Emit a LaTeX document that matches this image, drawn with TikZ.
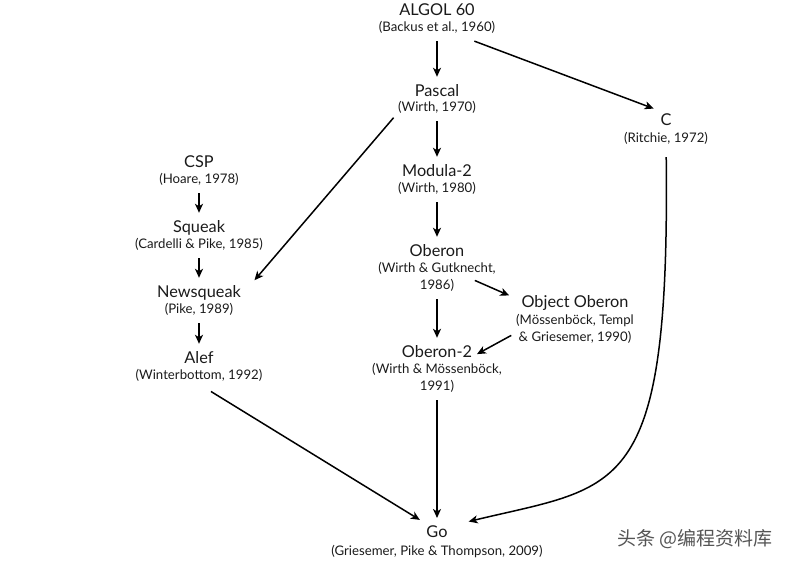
\documentclass[tikz,border=0pt]{standalone}
\usepackage{fontspec}
\setmainfont{Lato}
\newfontfamily\cjkfont{Noto Sans CJK SC}
\usetikzlibrary{arrows.meta}
\definecolor{ltext}{HTML}{1A1A1A}
\definecolor{lmark}{HTML}{555555}
\tikzset{
  lang/.style={anchor=base, font=\fontsize{16.3}{19}\selectfont, text=ltext, inner sep=3pt},
  langref/.style={anchor=base, align=center, font=\fontsize{13.2}{16.8}\selectfont,
                  text=ltext, inner sep=3pt},
  dep/.style={-{Stealth[length=9pt, width=8pt, inset=2.5pt]}, line width=1.5pt,
              shorten >=4pt, shorten <=5pt},
}

\begin{document}
\begin{tikzpicture}[x=1pt, y=-1pt]

  \useasboundingbox (0,0) rectangle (794,562);

  % languages
  \node[lang] (algol) at (437,15) {ALGOL 60};
  \node[langref] (algol-y) at (437,31) {(Backus et al., 1960)};
  \node[lang] (pascal) at (437,96) {Pascal};
  \node[langref] (pascal-y) at (437,111) {(Wirth, 1970)};
  \node[lang] (c) at (666,125) {C};
  \node[langref] (c-y) at (666,142) {(Ritchie, 1972)};
  \node[lang] (csp) at (199,167) {CSP};
  \node[langref] (csp-y) at (199,183) {(Hoare, 1978)};
  \node[lang] (modula) at (437,176) {Modula-2};
  \node[langref] (modula-y) at (437,192) {(Wirth, 1980)};
  \node[lang] (squeak) at (199,232) {Squeak};
  \node[langref] (squeak-y) at (199,248) {(Cardelli \& Pike, 1985)};
  \node[lang] (oberon) at (437,256) {Oberon};
  \node[langref] (oberon-y) at (437,289) {(Wirth \& Gutknecht,\\1986)};
  \node[lang] (newsqueak) at (199,297) {Newsqueak};
  \node[langref] (newsqueak-y) at (199,313) {(Pike, 1989)};
  \node[lang] (objoberon) at (575,307) {Object Oberon};
  \node[langref] (objoberon-y) at (575,341) {(Mössenböck, Templ\\\& Griesemer, 1990)};
  \node[lang] (oberontwo) at (437,357) {Oberon-2};
  \node[langref] (oberontwo-y) at (437,390) {(Wirth \& Mössenböck,\\1991)};
  \node[lang] (alef) at (199,363) {Alef};
  \node[langref] (alef-y) at (199,379) {(Winterbottom, 1992)};
  \node[lang] (go) at (437,537) {Go};
  \node[langref] (go-y) at (437,555) {(Griesemer, Pike \& Thompson, 2009)};

  \node[anchor=base, font=\cjkfont\fontsize{19}{19}\selectfont, text=lmark]
    (wmark) at (695,545) {头条 @编程资料库};

  % influences
  \draw[dep] (algol-y) -- (pascal);
  \draw[dep, shorten <=0pt] ([xshift=-24pt, yshift=-5pt]algol-y.south east) -- (c.north west);
  \draw[dep] (pascal-y) -- (modula);
  \draw[dep, shorten <=2pt, shorten >=16pt] (pascal-y.south west) -- (newsqueak.east);
  \draw[dep] (modula-y) -- (oberon);
  \draw[dep] (csp-y) -- (squeak);
  \draw[dep] (squeak-y) -- (newsqueak);
  \draw[dep] (newsqueak-y) -- (alef);
  \draw[dep, shorten <=0pt, shorten >=10pt] ([xshift=-24pt, yshift=-4pt]oberon-y.east) -- ([yshift=3pt]objoberon.west);
  \draw[dep] (oberon-y) -- (oberontwo);
  \draw[dep, shorten <=2pt, shorten >=2pt] ([yshift=-6pt]objoberon-y.west) -- ([yshift=-4pt]oberontwo.east);
  \draw[dep, shorten <=14pt] (alef-y.south) -- (go.north west);
  \draw[dep] (oberontwo-y) -- (go);
  \draw[dep, shorten <=10pt, shorten >=2pt] (c-y) .. controls (670,500) and (620,485) .. ([xshift=16pt]go.north east);

\end{tikzpicture}
\end{document}
